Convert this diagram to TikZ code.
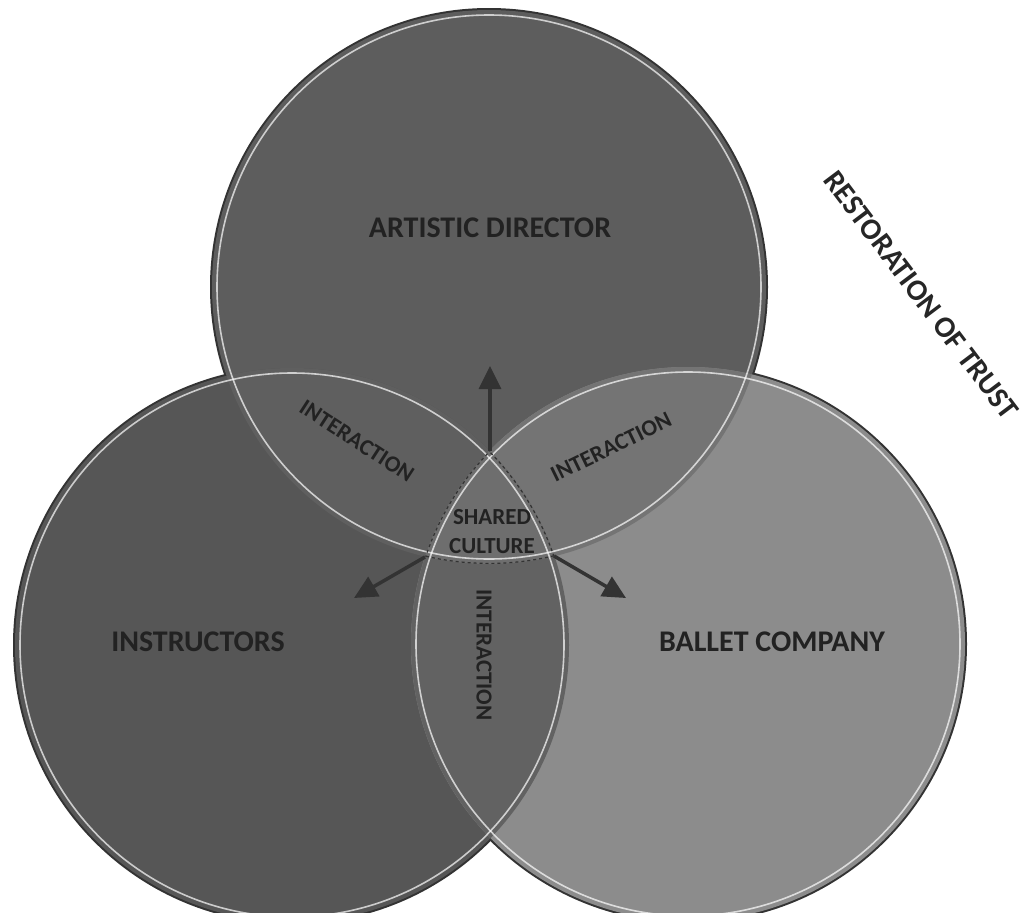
\documentclass[tikz,border=0pt]{standalone}
\usepackage{fontspec}
\setmainfont{Carlito}
\usetikzlibrary{arrows.meta}
\definecolor{edgegray}{HTML}{333333}
\definecolor{topgray}{HTML}{5D5D5D}
\definecolor{leftgray}{HTML}{565656}
\definecolor{rightgray}{HTML}{8C8C8C}
\definecolor{tlgray}{HTML}{5F5F5F}
\definecolor{trgray}{HTML}{747474}
\definecolor{lrgray}{HTML}{626262}
\definecolor{midgray}{HTML}{6E6E6E}
\definecolor{textgray}{HTML}{222222}
\begin{document}
\begin{tikzpicture}[x=1pt, y=-1pt,
    bigtext/.style={font=\bfseries\fontsize{30}{30}\selectfont, text=textgray},
    smalltext/.style={font=\bfseries\fontsize{23}{29}\selectfont, text=textgray, align=center},
    arrow/.style={-{Triangle[length=23pt,width=22pt]}, line width=3.5pt, draw=edgegray, fill=edgegray},
    rim/.style={draw=white, line width=1.6pt, opacity=0.7}
]
\useasboundingbox (0,0) rectangle (1023,913);
\clip (0,0) rectangle (1023,913);
\coordinate (ctop) at (489,287);
\coordinate (cleft) at (292,645);
\coordinate (cright) at (688,644);

\foreach \c in {ctop,cleft,cright}
    \draw[edgegray, line width=4pt] (\c) circle (277pt);
\fill[topgray] (ctop) circle (277pt);
\fill[leftgray] (cleft) circle (277pt);
\fill[rightgray] (cright) circle (277pt);
\begin{scope}
    \clip (ctop) circle (277pt);
    \fill[tlgray] (cleft) circle (277pt);
    \fill[trgray] (cright) circle (277pt);
\end{scope}
\begin{scope}
    \clip (cleft) circle (277pt);
    \fill[lrgray] (cright) circle (277pt);
    \clip (ctop) circle (277pt);
    \fill[midgray] (cright) circle (277pt);
\end{scope}
\foreach \c in {ctop,cleft,cright}
    \draw[rim] (\c) circle (272pt);
\begin{scope}
    \clip (ctop) circle (277pt);
    \clip (cleft) circle (277pt);
    \clip (cright) circle (277pt);
    \foreach \c in {ctop,cleft,cright}
        \draw[edgegray, dashed, line width=2.4pt] (\c) circle (277pt);
\end{scope}

\node[bigtext] (director) at (490,228) {ARTISTIC DIRECTOR};
\node[bigtext] (instructors) at (198,642) {INSTRUCTORS};
\node[bigtext] (company) at (772,642) {BALLET COMPANY};
\node[smalltext, rotate=-33] (interTL) at (357,441) {INTERACTION};
\node[smalltext, rotate=26] (interTR) at (611,447) {INTERACTION};
\node[smalltext, rotate=-90] (interLR) at (484,655) {INTERACTION};
\node[smalltext] (shared) at (492,532) {SHARED\\CULTURE};
\node[bigtext, text=black!85, rotate=-53] (trust) at (921,295) {RESTORATION OF TRUST};

\coordinate (apex) at (490,451);
\coordinate (lowleft) at (425,557);
\coordinate (lowright) at (554,556);
\coordinate (uptip) at (490,366);
\coordinate (lefttip) at (354,598);
\coordinate (righttip) at (626,598);
\draw[arrow] (apex) -- (uptip);
\draw[arrow] (lowleft) -- (lefttip);
\draw[arrow] (lowright) -- (righttip);
\end{tikzpicture}
\end{document}
